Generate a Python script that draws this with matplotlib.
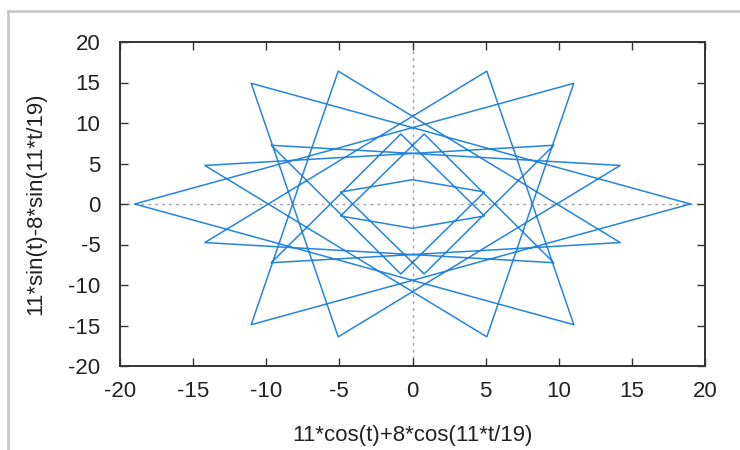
import matplotlib
matplotlib.use("Agg")
import matplotlib.pyplot as plt
from matplotlib.lines import Line2D

# Vertices of the sampled hypotrochoid (29 samples, closed path)
x_vals = [19.0, -11.03, -5.08, 14.20, -9.66, -0.80, 4.92, 0.0, -4.92, 0.80,
          9.66, -14.20, 5.08, 11.03, -19.0, 11.03, 5.08, -14.20, 9.66, 0.80,
          -4.92, 0.0, 4.92, -0.80, -9.66, 14.20, -5.08, -11.03, 19.0]
y_vals = [0.0, -14.90, 16.40, -4.76, -7.25, 8.64, -1.48, -3.0, -1.48, 8.64,
          -7.25, -4.76, 16.40, -14.90, 0.0, 14.90, -16.40, 4.76, 7.25, -8.64,
          1.48, 3.0, 1.48, -8.64, 7.25, 4.76, -16.40, 14.90, 0.0]

ticks = [-20, -15, -10, -5, 0, 5, 10, 15, 20]
x_label = "11*cos(t)+8*cos(11*t/19)"
y_label = "11*sin(t)-8*sin(11*t/19)"

plt.rcParams["font.family"] = ["Liberation Sans", "DejaVu Sans"]
plt.rcParams["axes.unicode_minus"] = False

fig = plt.figure(figsize=(7.4, 4.5), dpi=100)
fig.patch.set_facecolor("white")

# light border around the canvas (left and top edges)
fig.add_artist(Line2D([8 / 740, 8 / 740], [0, 1 - 11 / 450], transform=fig.transFigure,
                      color="#c4c4c4", lw=1.8))
fig.add_artist(Line2D([8 / 740, 1], [1 - 11 / 450, 1 - 11 / 450], transform=fig.transFigure,
                      color="#c4c4c4", lw=1.8))

ax = fig.add_axes([120 / 740, 1 - 366 / 450, 585 / 740, 324 / 450])
ax.set_xlim(-20, 20)
ax.set_ylim(-20, 20)

# zero axes
ax.axhline(0, color="#a0a0a0", lw=1.0, ls=(0, (2, 3)), zorder=1)
ax.axvline(0, color="#a0a0a0", lw=1.0, ls=(0, (2, 3)), zorder=1)

ax.plot(x_vals, y_vals, color="#2585dc", lw=1.1, zorder=2)

ax.set_xticks(ticks)
ax.set_yticks(ticks)
ax.tick_params(direction="in", length=6, width=1.0, color="#333333",
               top=True, right=True, labelsize=16, labelcolor="#222222")
ax.tick_params(axis="x", pad=11)
ax.tick_params(axis="y", pad=14)
for s in ax.spines.values():
    s.set_color("#333333")
    s.set_linewidth(1.4)

ax.set_xlabel(x_label, fontsize=16, color="#222222", labelpad=16)
ax.set_ylabel(y_label, fontsize=16, color="#222222", labelpad=16)

fig.savefig("out.png", dpi=100, facecolor="white")
